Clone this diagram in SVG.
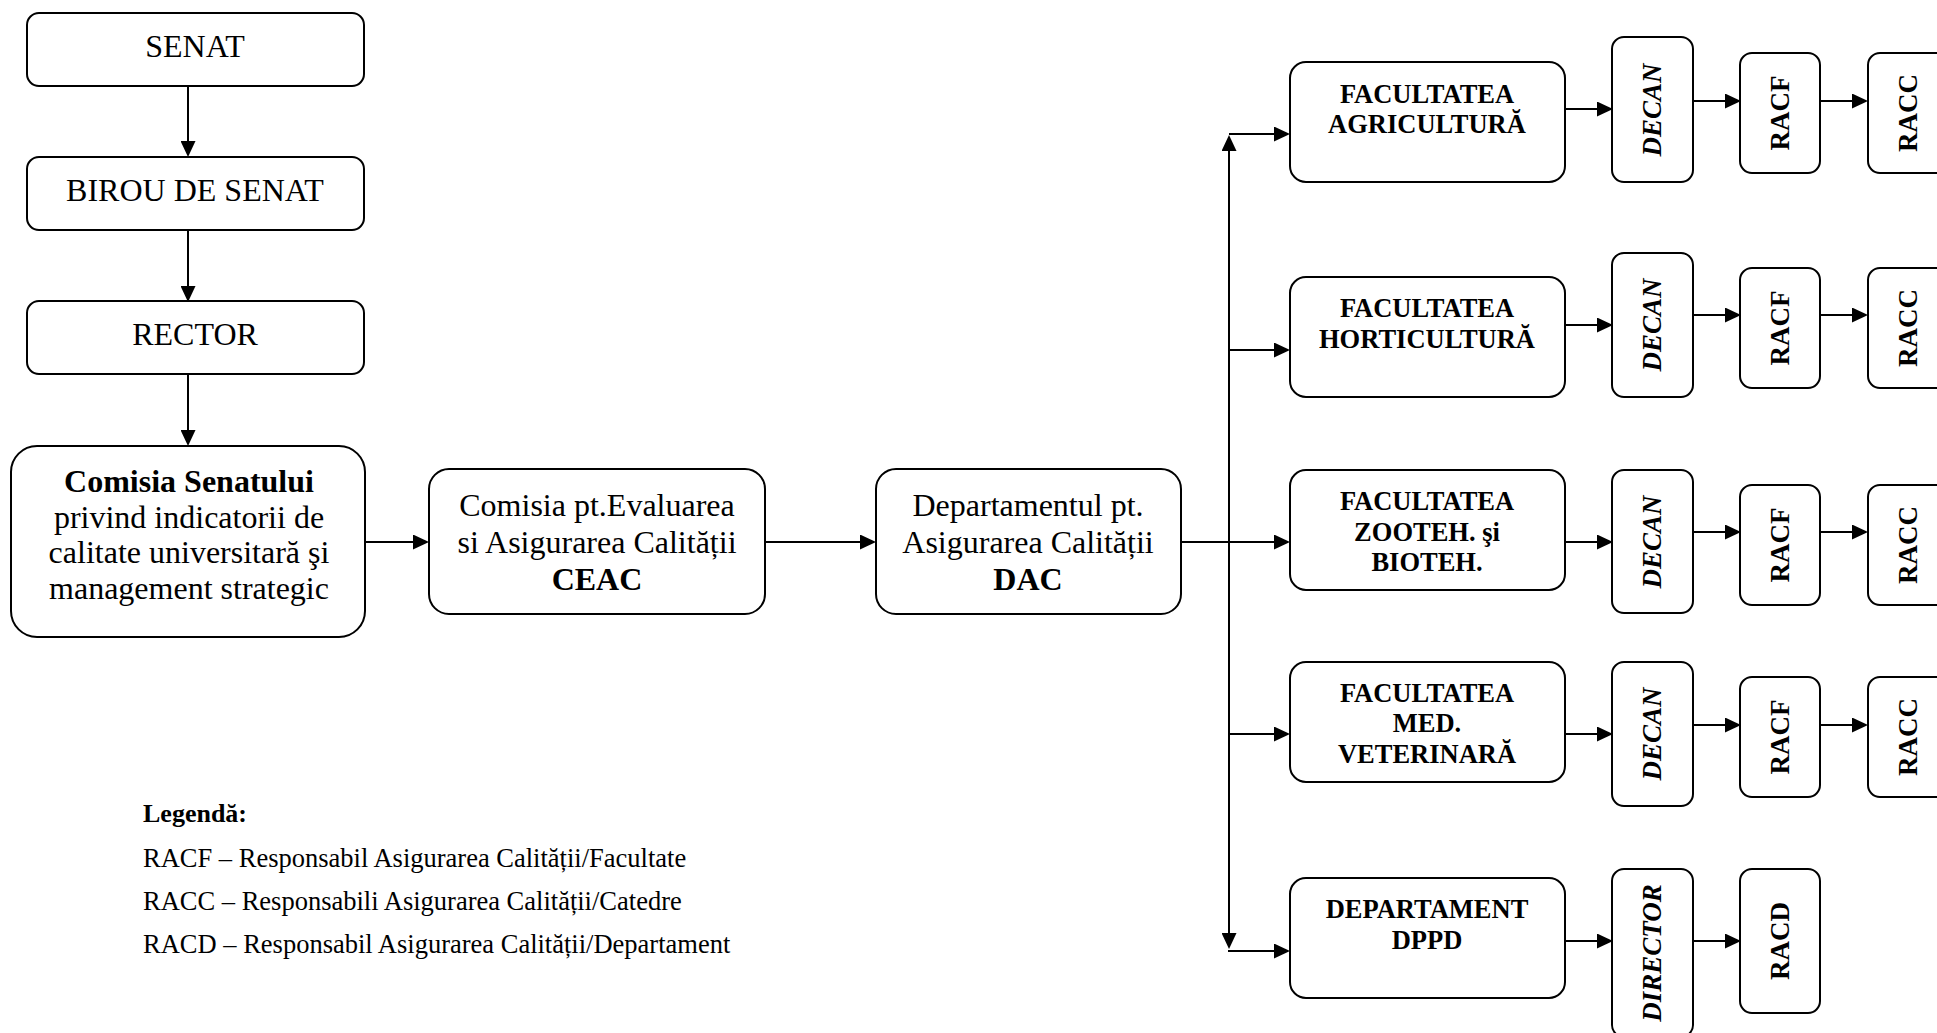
<svg xmlns="http://www.w3.org/2000/svg" width="1937" height="1033" viewBox="0 0 1937 1033">
<style>
.box{fill:#fff;stroke:#000;stroke-width:2}
.t{font-family:"Liberation Serif","Times New Roman",serif;font-size:32px;fill:#000;text-anchor:middle}
.b{font-weight:bold}
.f{font-family:"Liberation Serif","Times New Roman",serif;font-size:26.5px;font-weight:bold;fill:#000;text-anchor:middle}
.v{font-family:"Liberation Serif","Times New Roman",serif;font-size:27px;font-weight:bold;fill:#000;text-anchor:middle}
.vi{font-style:italic}
.lg{font-family:"Liberation Serif","Times New Roman",serif;font-size:26.5px;fill:#000}
.c{stroke:#000;stroke-width:2;fill:none;marker-end:url(#ah)}
</style>
<defs>
<marker id="ah" markerUnits="userSpaceOnUse" markerWidth="16" markerHeight="15" refX="14" refY="7.5" orient="auto-start-reverse">
<path d="M0,0 L16,7.5 L0,15 z" fill="#000"/>
</marker>
</defs>
<rect width="1937" height="1033" fill="#fff"/>

<g id="connectors">
<line class="c" x1="188" y1="86" x2="188" y2="155"/>
<line class="c" x1="188" y1="230" x2="188" y2="300"/>
<line class="c" x1="188" y1="374" x2="188" y2="444"/>
<line class="c" x1="365" y1="542" x2="427" y2="542"/>
<line class="c" x1="765" y1="542" x2="874" y2="542"/>
<line class="c" x1="1181" y1="542" x2="1288" y2="542"/>
<line class="c" x1="1229" y1="947" x2="1229" y2="137" style="marker-start:url(#ah)"/>
<line class="c" x1="1229" y1="134" x2="1288" y2="134"/>
<line class="c" x1="1229" y1="350" x2="1288" y2="350"/>
<line class="c" x1="1229" y1="734" x2="1288" y2="734"/>
<line class="c" x1="1228" y1="951" x2="1288" y2="951"/>
<line class="c" x1="1565" y1="109" x2="1611" y2="109"/>
<line class="c" x1="1565" y1="325" x2="1611" y2="325"/>
<line class="c" x1="1565" y1="542" x2="1611" y2="542"/>
<line class="c" x1="1565" y1="734" x2="1611" y2="734"/>
<line class="c" x1="1565" y1="941" x2="1611" y2="941"/>
<line class="c" x1="1693" y1="101" x2="1739" y2="101"/>
<line class="c" x1="1693" y1="315" x2="1739" y2="315"/>
<line class="c" x1="1693" y1="532" x2="1739" y2="532"/>
<line class="c" x1="1693" y1="725" x2="1739" y2="725"/>
<line class="c" x1="1693" y1="941" x2="1739" y2="941"/>
<line class="c" x1="1820" y1="101" x2="1866" y2="101"/>
<line class="c" x1="1820" y1="315" x2="1866" y2="315"/>
<line class="c" x1="1820" y1="532" x2="1866" y2="532"/>
<line class="c" x1="1820" y1="725" x2="1866" y2="725"/>
</g>

<g id="senat"><rect class="box" x="27" y="13" width="337" height="73" rx="12"/><text class="t" x="195" y="57">SENAT</text></g>
<g id="birou"><rect class="box" x="27" y="157" width="337" height="73" rx="12"/><text class="t" x="195" y="201">BIROU DE SENAT</text></g>
<g id="rector"><rect class="box" x="27" y="301" width="337" height="73" rx="12"/><text class="t" x="195" y="345">RECTOR</text></g>
<g id="comisia"><rect class="box" x="11" y="446" width="354" height="191" rx="26"/>
<text class="t" x="189"><tspan class="b" x="189" y="492">Comisia Senatului</tspan><tspan x="189" y="528">privind indicatorii de</tspan><tspan x="189" y="563">calitate universitară şi</tspan><tspan x="189" y="599">management strategic</tspan></text></g>
<g id="ceac"><rect class="box" x="429" y="469" width="336" height="145" rx="20"/>
<text class="t" x="597"><tspan x="597" y="516">Comisia pt.Evaluarea</tspan><tspan x="597" y="553">si Asigurarea Calității</tspan><tspan class="b" x="597" y="590">CEAC</tspan></text></g>
<g id="dac"><rect class="box" x="876" y="469" width="305" height="145" rx="20"/>
<text class="t" x="1028"><tspan x="1028" y="516">Departamentul pt.</tspan><tspan x="1028" y="553">Asigurarea Calității</tspan><tspan class="b" x="1028" y="590">DAC</tspan></text></g>

<g id="fac-agri"><rect class="box" x="1290" y="62" width="275" height="120" rx="16"/>
<text class="f"><tspan x="1427" y="103">FACULTATEA</tspan><tspan x="1427" y="133">AGRICULTURĂ</tspan></text></g>
<g id="fac-horti"><rect class="box" x="1290" y="277" width="275" height="120" rx="16"/>
<text class="f"><tspan x="1427" y="317">FACULTATEA</tspan><tspan x="1427" y="348">HORTICULTURĂ</tspan></text></g>
<g id="fac-zoo"><rect class="box" x="1290" y="470" width="275" height="120" rx="16"/>
<text class="f"><tspan x="1427" y="510">FACULTATEA</tspan><tspan x="1427" y="541">ZOOTEH. şi</tspan><tspan x="1427" y="571">BIOTEH.</tspan></text></g>
<g id="fac-med"><rect class="box" x="1290" y="662" width="275" height="120" rx="16"/>
<text class="f"><tspan x="1427" y="702">FACULTATEA</tspan><tspan x="1427" y="732">MED.</tspan><tspan x="1427" y="763">VETERINARĂ</tspan></text></g>
<g id="dep-dppd"><rect class="box" x="1290" y="878" width="275" height="120" rx="16"/>
<text class="f"><tspan x="1427" y="918">DEPARTAMENT</tspan><tspan x="1427" y="949">DPPD</tspan></text></g>

<g id="decan-agri"><rect class="box" x="1612" y="37" width="81" height="145" rx="12"/><text class="v vi" transform="translate(1652,110) rotate(-90)" y="9">DECAN</text></g>
<g id="decan-horti"><rect class="box" x="1612" y="253" width="81" height="144" rx="12"/><text class="v vi" transform="translate(1652,325) rotate(-90)" y="9">DECAN</text></g>
<g id="decan-zoo"><rect class="box" x="1612" y="470" width="81" height="143" rx="12"/><text class="v vi" transform="translate(1652,542) rotate(-90)" y="9">DECAN</text></g>
<g id="decan-med"><rect class="box" x="1612" y="662" width="81" height="144" rx="12"/><text class="v vi" transform="translate(1652,734) rotate(-90)" y="9">DECAN</text></g>
<g id="director"><rect class="box" x="1612" y="869" width="81" height="168" rx="12"/><text class="v vi" transform="translate(1652,953) rotate(-90)" y="9">DIRECTOR</text></g>

<g id="racf-agri"><rect class="box" x="1740" y="53" width="80" height="120" rx="12"/><text class="v" transform="translate(1780,113) rotate(-90)" y="9">RACF</text></g>
<g id="racf-horti"><rect class="box" x="1740" y="268" width="80" height="120" rx="12"/><text class="v" transform="translate(1780,328) rotate(-90)" y="9">RACF</text></g>
<g id="racf-zoo"><rect class="box" x="1740" y="485" width="80" height="120" rx="12"/><text class="v" transform="translate(1780,545) rotate(-90)" y="9">RACF</text></g>
<g id="racf-med"><rect class="box" x="1740" y="677" width="80" height="120" rx="12"/><text class="v" transform="translate(1780,737) rotate(-90)" y="9">RACF</text></g>
<g id="racd"><rect class="box" x="1740" y="869" width="80" height="144" rx="12"/><text class="v" transform="translate(1780,941) rotate(-90)" y="9">RACD</text></g>

<g id="racc-agri"><rect class="box" x="1868" y="53" width="82" height="120" rx="12"/><text class="v" transform="translate(1908,113) rotate(-90)" y="9">RACC</text></g>
<g id="racc-horti"><rect class="box" x="1868" y="268" width="82" height="120" rx="12"/><text class="v" transform="translate(1908,328) rotate(-90)" y="9">RACC</text></g>
<g id="racc-zoo"><rect class="box" x="1868" y="485" width="82" height="120" rx="12"/><text class="v" transform="translate(1908,545) rotate(-90)" y="9">RACC</text></g>
<g id="racc-med"><rect class="box" x="1868" y="677" width="82" height="120" rx="12"/><text class="v" transform="translate(1908,737) rotate(-90)" y="9">RACC</text></g>

<g id="legend">
<text class="lg" x="143" y="822" style="font-weight:bold;font-size:26px">Legendă:</text>
<text class="lg" x="143" y="867">RACF – Responsabil Asigurarea Calității/Facultate</text>
<text class="lg" x="143" y="910">RACC – Responsabili Asigurarea Calității/Catedre</text>
<text class="lg" x="143" y="953">RACD – Responsabil Asigurarea Calității/Departament</text>
</g>
</svg>
